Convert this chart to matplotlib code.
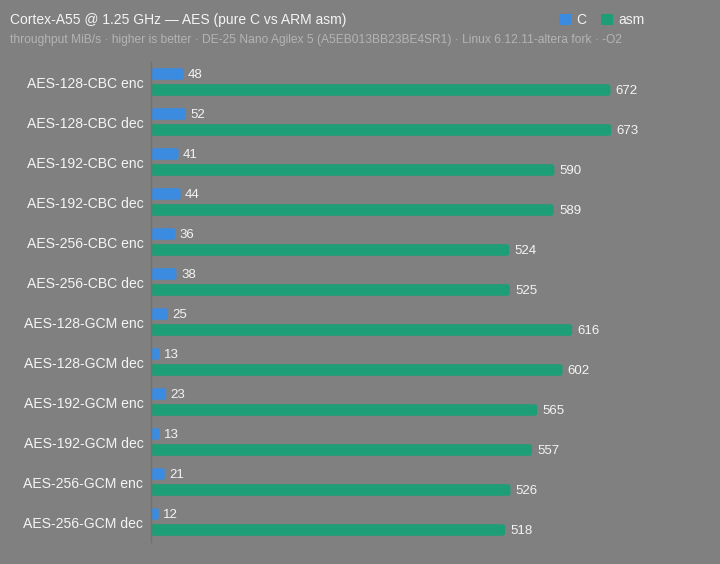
import matplotlib
matplotlib.use("Agg")
import matplotlib.pyplot as plt
from matplotlib.patches import FancyBboxPatch, Patch
import numpy as np

plt.rcParams['font.family'] = ['Liberation Sans', 'DejaVu Sans']

# data
labels = ["AES-128-CBC enc", "AES-128-CBC dec", "AES-192-CBC enc", "AES-192-CBC dec",
          "AES-256-CBC enc", "AES-256-CBC dec", "AES-128-GCM enc", "AES-128-GCM dec",
          "AES-192-GCM enc", "AES-192-GCM dec", "AES-256-GCM enc", "AES-256-GCM dec"]
c_vals = [48, 52, 41, 44, 36, 38, 25, 13, 23, 13, 21, 12]
asm_vals = [672, 673, 590, 589, 524, 525, 616, 602, 565, 557, 526, 518]

BG = "#808080"
C_COL = "#3b8be0"
ASM_COL = "#1e9e76"
TXT = "#f4f4f4"
SUB = "#b4b4b4"

W, H = 720, 564
fig = plt.figure(figsize=(W / 100, H / 100), dpi=100, facecolor=BG)
ax = fig.add_axes([150.5 / W, (H - 542) / H, 569.5 / W, 480 / H])
ax.set_facecolor(BG)

xmax = 569.5 / 0.6845
ax.set_xlim(0, xmax)
ax.set_ylim(len(labels), 0)

y = np.arange(len(labels))
bh = 0.29


def rounded(bars, color):
    # swap plain rectangles for slightly rounded ones
    px_x = 569.5 / xmax
    px_y = 40.0
    r_px = 2.5
    for b in bars:
        x0, y0 = b.get_x(), b.get_y()
        w, h = b.get_width(), b.get_height()
        b.remove()
        p = FancyBboxPatch((x0, y0), w, h,
                           boxstyle="round,pad=0,rounding_size=%f" % (r_px / px_x),
                           mutation_aspect=px_x / px_y,
                           fc=color, ec="none")
        ax.add_patch(p)


bc = ax.barh(y + 0.3, c_vals, height=bh, color=C_COL)
ba = ax.barh(y + 0.7, asm_vals, height=bh, color=ASM_COL)
rounded(bc, C_COL)
rounded(ba, ASM_COL)

for yi, v in zip(y, c_vals):
    ax.annotate(str(v), (v, yi + 0.3), xytext=(3.2, -0.5), textcoords="offset points",
                va="center", ha="left", color=TXT, fontsize=9.5)
for yi, v in zip(y, asm_vals):
    ax.annotate(str(v), (v, yi + 0.7), xytext=(3.8, -0.5), textcoords="offset points",
                va="center", ha="left", color=TXT, fontsize=9.5)

ax.set_yticks(y + 0.5)
ax.set_yticklabels(labels, color=TXT, fontsize=10.1)
ax.tick_params(axis="y", length=0, pad=5.2)
ax.set_xticks([])
for s in ["top", "right", "bottom"]:
    ax.spines[s].set_visible(False)
ax.spines["left"].set_color("#717171")
ax.spines["left"].set_linewidth(1)

fig.text(10 / W, 1 - 20 / H, "Cortex-A55 @ 1.25 GHz \u2014 AES (pure C vs ARM asm)",
         color=TXT, fontsize=10, va="center", ha="left")
fig.text(10 / W, 1 - 40 / H,
         "throughput MiB/s \u00b7 higher is better \u00b7 DE-25 Nano Agilex 5 (A5EB013BB23BE4SR1) "
         "\u00b7 Linux 6.12.11-altera fork \u00b7 -O2",
         color=SUB, fontsize=8.65, va="center", ha="left")

handles = [Patch(fc=C_COL, ec="none"), Patch(fc=ASM_COL, ec="none")]
fig.legend(handles, ["C", "asm"], loc="center left", bbox_to_anchor=(559 / W, 1 - 20 / H),
           ncol=2, frameon=False, fontsize=10, labelcolor=TXT,
           handlelength=0.86, handleheight=0.86, handletextpad=0.35,
           columnspacing=1.1, borderpad=0, borderaxespad=0)

fig.savefig("out.png", dpi=100, facecolor=BG)
